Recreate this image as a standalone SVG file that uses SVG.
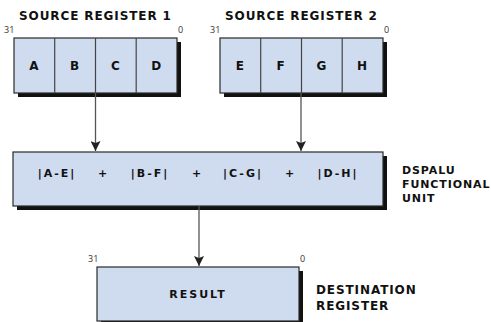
<svg xmlns="http://www.w3.org/2000/svg" width="491" height="322" viewBox="0 0 491 322">
<defs>
<style>
.box{fill:#cfdbee;stroke:#2a2a2a;stroke-width:1.2}
.div{stroke:#444;stroke-width:1.2}
.sh{fill:#111}
.t{font-family:"DejaVu Sans","Open Sans",sans-serif;font-weight:bold;font-size:11px;fill:#111;letter-spacing:0.9px}
.h{font-size:12px}
.w{letter-spacing:2px}
.c{text-anchor:middle}
.n{font-family:"Open Sans","DejaVu Sans",sans-serif;font-size:9px;fill:#333}
.e{stroke:#555;stroke-width:1.3;fill:none}
</style>
<marker id="ah" markerWidth="10" markerHeight="10" refX="10" refY="5" orient="auto" markerUnits="userSpaceOnUse" viewBox="0 0 10 10">
<path d="M0,0 L10,5 L0,10 L2,5 Z" fill="#222"/>
</marker>
</defs>
<rect width="491" height="322" fill="#fff"/>
<g id="src1">
<text class="t h" x="19" y="20">SOURCE REGISTER 1</text>
<text class="n" x="4" y="33">31</text>
<text class="n" x="178" y="33">0</text>
<rect class="sh" x="18" y="42" width="163" height="55"/>
<rect class="box" x="14" y="38" width="163" height="55"/>
<line class="div" x1="54.7" y1="38" x2="54.7" y2="93"/>
<line class="div" x1="95.5" y1="38" x2="95.5" y2="93"/>
<line class="div" x1="136.2" y1="38" x2="136.2" y2="93"/>
<text class="t h c" x="34.4" y="70">A</text>
<text class="t h c" x="75.1" y="70">B</text>
<text class="t h c" x="115.9" y="70">C</text>
<text class="t h c" x="156.6" y="70">D</text>
</g>
<g id="src2">
<text class="t h" x="225" y="20">SOURCE REGISTER 2</text>
<text class="n" x="210" y="33">31</text>
<text class="n" x="384" y="33">0</text>
<rect class="sh" x="224" y="42" width="163" height="55"/>
<rect class="box" x="220" y="38" width="163" height="55"/>
<line class="div" x1="260.7" y1="38" x2="260.7" y2="93"/>
<line class="div" x1="301.5" y1="38" x2="301.5" y2="93"/>
<line class="div" x1="342.2" y1="38" x2="342.2" y2="93"/>
<text class="t h c" x="240.4" y="70">E</text>
<text class="t h c" x="281.1" y="70">F</text>
<text class="t h c" x="321.9" y="70">G</text>
<text class="t h c" x="362.6" y="70">H</text>
</g>
<g id="alu">
<rect class="sh" x="17" y="156" width="370" height="54"/>
<rect class="box" x="13" y="152" width="370" height="54"/>
<text class="t w c" x="57" y="177">|A-E|</text>
<text class="t c" x="103" y="177">+</text>
<text class="t w c" x="150" y="177">|B-F|</text>
<text class="t c" x="197" y="177">+</text>
<text class="t w c" x="243" y="177">|C-G|</text>
<text class="t c" x="290" y="177">+</text>
<text class="t w c" x="338" y="177">|D-H|</text>
<text class="t" x="402" y="174">DSPALU</text>
<text class="t" x="402" y="188">FUNCTIONAL</text>
<text class="t" x="402" y="202">UNIT</text>
</g>
<g id="result">
<text class="n" x="88" y="262">31</text>
<text class="n" x="300" y="262">0</text>
<rect class="sh" x="101" y="271" width="202" height="54"/>
<rect class="box" x="97" y="267" width="202" height="54"/>
<text class="t w c" x="198" y="298">RESULT</text>
<text class="t h" x="316" y="294">DESTINATION</text>
<text class="t h" x="316" y="310">REGISTER</text>
</g>
<g id="connectors">
<line class="e" x1="95.5" y1="93" x2="95.5" y2="151" marker-end="url(#ah)"/>
<line class="e" x1="301" y1="93" x2="301" y2="151" marker-end="url(#ah)"/>
<line class="e" x1="199" y1="206" x2="199" y2="266" marker-end="url(#ah)"/>
</g>
</svg>
